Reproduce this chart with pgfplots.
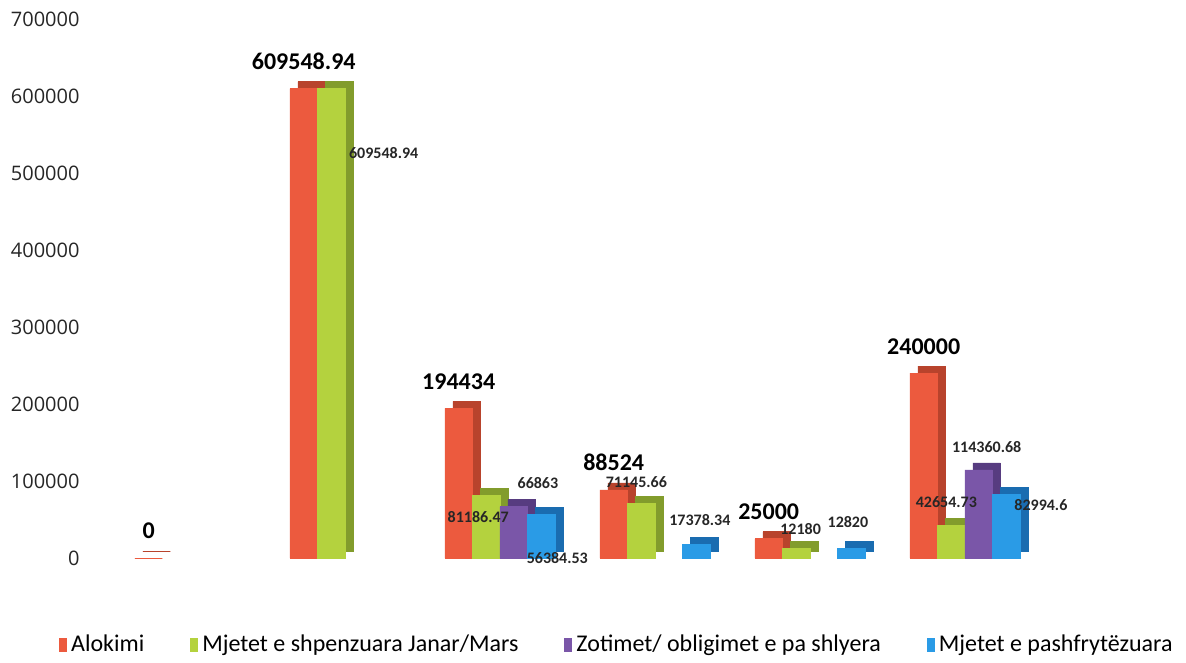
\documentclass[border=0pt]{standalone}
\usepackage{pgfplots}
\pgfplotsset{compat=1.18}
\usepackage{pgfplotstable}
\usepackage{fontspec}
\setmainfont{Open Sans}
\newfontfamily\carlito{Carlito}
\definecolor{redF}{HTML}{EC5A3E}
\definecolor{redS}{HTML}{B8432C}
\definecolor{grnF}{HTML}{B4D23E}
\definecolor{grnS}{HTML}{829C2C}
\definecolor{purF}{HTML}{7A56A8}
\definecolor{purS}{HTML}{573C80}
\definecolor{bluF}{HTML}{2A9BE6}
\definecolor{bluS}{HTML}{1A6CB0}

\pgfplotstableread{
x a b c d la
0 0 nan nan nan 0
1 609548.94 609548.94 nan nan 609548.94
2 194434 81186.47 66863 56384.53 194434
3 88524 71145.66 nan 17378.34 88524
4 25000 12180 nan 12820 25000
5 240000 42654.73 114360.68 82994.6 240000
}\data

\begin{document}
\begin{tikzpicture}
\begin{axis}[
  scale only axis, width=529pt, height=269.5pt,
  xmin=-0.632, xmax=6.194, ymin=0, ymax=700000,
  axis line style={draw=none}, major tick length=0pt,
  xtick=\empty, ytick={0,100000,200000,300000,400000,500000,600000,700000},
  scaled y ticks=false,
  yticklabel style={/pgf/number format/fixed, /pgf/number format/1000 sep={},
    /pgf/number format/assume math mode=true,
    font=\fontsize{10}{12}\selectfont, text=black!85, xshift=-2.7pt},
  ybar, bar width=13.75pt,
  legend style={at={(0.497,-0.161)}, anchor=center, draw=none, fill=none,
    legend columns=4, font=\carlito\fontsize{12}{14}\selectfont,
    /tikz/every even column/.append style={column sep=21pt}},
  legend image code/.code={\fill[#1,draw=none] (0pt,-3.5pt) rectangle (4pt,3.5pt);},
  clip=false,
]
% Alokimi
\addplot[fill=redS, draw=redS, line width=0.3pt, bar shift=-20.625pt, xshift=4pt, yshift=3.5pt, forget plot] table[x=x,y=a]{\data};
\addplot[fill=redF, draw=redF, line width=0.3pt, bar shift=-20.625pt,
  nodes near coords, point meta=explicit symbolic,
  nodes near coords style={font=\carlito\bfseries\fontsize{12}{14}\selectfont, text=black, yshift=6pt}]
  table[x=x,y=a,meta=la]{\data};
\addlegendentry{Alokimi}
% Mjetet e shpenzuara
\addplot[fill=grnS, draw=grnS, line width=0.3pt, bar shift=-6.875pt, xshift=4pt, yshift=3.5pt, forget plot] table[x=x,y=b]{\data};
\addplot[fill=grnF, draw=grnF, line width=0.3pt, bar shift=-6.875pt] table[x=x,y=b]{\data};
\addlegendentry{Mjetet e shpenzuara Janar/Mars}
% Zotimet
\addplot[fill=purS, draw=purS, line width=0.3pt, bar shift=6.875pt, xshift=4pt, yshift=3.5pt, forget plot] table[x=x,y=c]{\data};
\addplot[fill=purF, draw=purF, line width=0.3pt, bar shift=6.875pt] table[x=x,y=c]{\data};
\addlegendentry{Zotimet/ obligimet e pa shlyera}
% Mjetet e pashfrytezuara
\addplot[fill=bluS, draw=bluS, line width=0.3pt, bar shift=20.625pt, xshift=4pt, yshift=3.5pt, forget plot] table[x=x,y=d]{\data};
\addplot[fill=bluF, draw=bluF, line width=0.3pt, bar shift=20.625pt] table[x=x,y=d]{\data};
\addlegendentry{Mjetet e pashfrytëzuara}

\begin{scope}[every node/.style={font=\carlito\bfseries\fontsize{8}{10}\selectfont, text=black!85}]
\node at (axis cs:1.25,526000) {609548.94};
\node at (axis cs:1.86,53000) {81186.47};
\node at (axis cs:2.88,98000) {71145.66};
\node at (axis cs:3.94,37000) {12180};
\node at (axis cs:4.88,73000) {42654.73};
\node at (axis cs:2.245,97000) {66863};
\node at (axis cs:5.14,144000) {114360.68};
\node at (axis cs:2.37,0) {56384.53};
\node at (axis cs:3.29,49000) {17378.34};
\node at (axis cs:4.245,47000) {12820};
\node at (axis cs:5.49,69000) {82994.6};
\end{scope}
\end{axis}
\path ([shift={(-46pt,279pt)}]current axis.south west) rectangle ([shift={(547pt,-50pt)}]current axis.south west);
\end{tikzpicture}
\end{document}
